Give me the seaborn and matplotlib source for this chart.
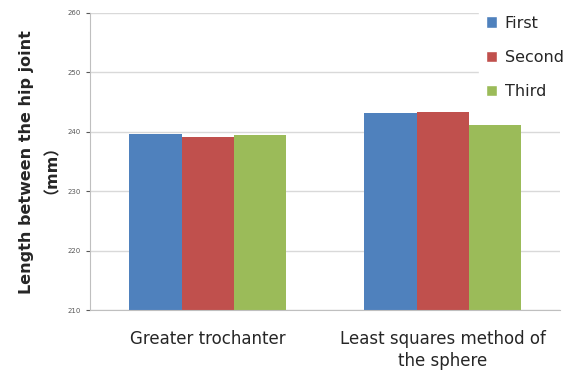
import pandas as pd
import matplotlib.pyplot as plt
import seaborn as sns
from matplotlib.patches import Patch

methods = ["Greater trochanter", "Least squares method of\nthe sphere"]
trials = ["First", "Second", "Third"]
first = [239.6, 243.1]
second = [239.1, 243.4]
third = [239.5, 241.2]
colors = ["#4F81BD", "#C0504D", "#9BBB59"]

rows = []
for i, m in enumerate(methods):
    for t, vals in zip(trials, [first, second, third]):
        rows.append({"method": m, "trial": t, "length": vals[i]})
df = pd.DataFrame(rows)

sns.set_style("white")
plt.rcParams["font.family"] = ["DejaVu Sans", "Noto Sans CJK SC"]

fig = plt.figure(figsize=(5.74, 3.71), dpi=100)
ax = fig.add_axes([0.157, 0.164, 0.819, 0.801])
sns.barplot(data=df, x="method", y="length", hue="trial", palette=colors,
            width=0.667, gap=0, saturation=1, ax=ax, legend=False, zorder=2,
            linewidth=0)

ax.set_ylim(210, 260)
ax.set_yticks(range(210, 261, 10))
ax.tick_params(axis="y", labelsize=5, colors="#595959", length=3, direction="out", left=True)
ax.tick_params(axis="x", labelsize=12, length=0, pad=14)
for lbl in ax.get_xticklabels():
    lbl.set_linespacing(1.3)
ax.yaxis.grid(True, color="#D9D9D9", linewidth=1, zorder=0)
ax.set_axisbelow(True)
for s in ["top", "right"]:
    ax.spines[s].set_visible(False)
ax.spines["left"].set_color("#BFBFBF")
ax.spines["bottom"].set_color("#BFBFBF")
ax.set_xlabel("")
ax.set_ylabel("Length between the hip joint\n\uff08mm\uff09", fontsize=11.5, fontweight="bold",
              family=["DejaVu Sans", "Noto Sans CJK SC"], labelpad=12, linespacing=1.1)

handles = [Patch(facecolor=c, label=t) for c, t in zip(colors, trials)]
leg = fig.legend(handles=handles, loc="upper left", bbox_to_anchor=(0.835, 0.975),
                 frameon=True, fontsize=11.5, handlelength=0.7, handleheight=0.7,
                 labelspacing=1.2, borderaxespad=0, handletextpad=0.5)
leg.get_frame().set_facecolor("white")
leg.get_frame().set_edgecolor("white")
leg.get_frame().set_alpha(1)

fig.savefig("out.png", dpi=100)
